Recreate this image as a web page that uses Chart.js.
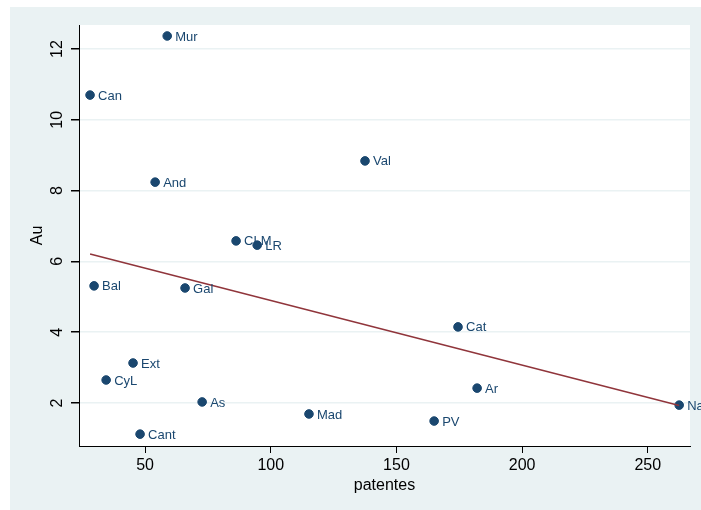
<!DOCTYPE html>
<html>
<head>
<meta charset="utf-8">
<script src="https://cdn.jsdelivr.net/npm/chart.js@4/dist/chart.umd.min.js"></script>
<style>
  body{margin:0;background:#fff;}
  #wrap{width:701px;height:510px;position:relative;}
</style>
</head>
<body>
<div id="wrap"><canvas id="myChart"></canvas></div>
<script>
//---------- data ----------
const regions=['Mur','Can','Val','And','CLM','LR','Bal','Gal','Cat','Ext','CyL','Ar','As','Mad','PV','Cant','Na'];
const patentes=[58.8,28.1,137.5,54.0,86.2,94.6,29.7,65.9,174.5,45.2,34.5,182.1,72.7,115.2,165.0,48.0,262.5];
const au=[12.37,10.70,8.84,8.24,6.58,6.46,5.31,5.25,4.15,3.13,2.65,2.42,2.03,1.69,1.49,1.12,1.94];
// fitted line end points
const fitX=[28.1,262.5];
const fitY=[6.21,1.93];
const xTicks=[50,100,150,200,250];
const yTicks=[2,4,6,8,10,12];

const navy='#1a476f';
const maroon='#90353b';
const bgColor='#eaf2f3';
const fontFam='"Liberation Sans", Arial, Helvetica, sans-serif';

//---------- background & labels plugin ----------
const stataLook={
  id:'stataLook',
  beforeDraw(chart){
    const c=chart.ctx, a=chart.chartArea;
    c.save();
    c.fillStyle='#fff';
    c.fillRect(0,0,chart.width,chart.height);
    c.fillStyle=bgColor;
    c.fillRect(10,7,chart.width-10,chart.height-7);
    c.fillStyle='#fff';
    c.fillRect(a.left,a.top,a.right-a.left,a.bottom-a.top);
    c.restore();
  },
  afterDraw(chart){
    const c=chart.ctx, y=chart.scales.y;
    c.save();
    // rotated y tick labels
    c.fillStyle='#000';
    c.font='16px '+fontFam;
    c.textAlign='center';
    c.textBaseline='middle';
    yTicks.forEach(v=>{
      c.save();
      c.translate(58,y.getPixelForValue(v));
      c.rotate(-Math.PI/2);
      c.fillText(String(v),0,0);
      c.restore();
    });
    // axis titles
    c.save();
    c.translate(38,(chart.chartArea.top+chart.chartArea.bottom)/2);
    c.rotate(-Math.PI/2);
    c.fillText('Au',0,0);
    c.restore();
    c.fillText('patentes',(chart.chartArea.left+chart.chartArea.right)/2,486);
    // point labels
    const meta=chart.getDatasetMeta(1);
    c.fillStyle=navy;
    c.font='13px '+fontFam;
    c.textAlign='left';
    meta.data.forEach((pt,i)=>{
      c.fillText(regions[i],pt.x+8,pt.y+1);
    });
    c.restore();
  }
};

const ctx=document.getElementById('myChart');
const chart=new Chart(ctx,{
  type:'scatter',
  data:{
    datasets:[
      {
        type:'line',
        data:fitX.map((v,i)=>({x:v,y:fitY[i]})),
        borderColor:maroon,
        borderWidth:1.5,
        pointRadius:0,
        fill:false,
      },
      {
        data:patentes.map((v,i)=>({x:v,y:au[i]})),
        backgroundColor:navy,
        borderColor:navy,
        pointRadius:4.3,
        pointHoverRadius:4.3,
      }
    ]
  },
  options:{
    responsive:true,
    maintainAspectRatio:false,
    animation:false,
    layout:{padding:{top:25,right:11,left:0,bottom:0}},
    plugins:{legend:{display:false},tooltip:{enabled:false}},
    scales:{
      x:{
        type:'linear',
        min:23.7,
        max:266.8,
        afterBuildTicks:s=>{s.ticks=xTicks.map(v=>({value:v}));},
        afterFit:s=>{s.height=64;},
        grid:{drawOnChartArea:false,drawTicks:true,tickLength:7,tickColor:'#000'},
        border:{display:true,color:'#000',width:1},
        ticks:{color:'#000',font:{size:16,family:fontFam},padding:3,maxRotation:0},
      },
      y:{
        type:'linear',
        min:0.785,
        max:12.68,
        afterBuildTicks:s=>{s.ticks=yTicks.map(v=>({value:v}));},
        afterFit:s=>{s.width=79;},
        grid:{color:bgColor,lineWidth:1.5,drawTicks:true,tickLength:8,tickColor:'#000'},
        border:{display:true,color:'#000',width:1},
        ticks:{display:false},
      }
    }
  },
  plugins:[stataLook]
});
</script>
</body>
</html>
